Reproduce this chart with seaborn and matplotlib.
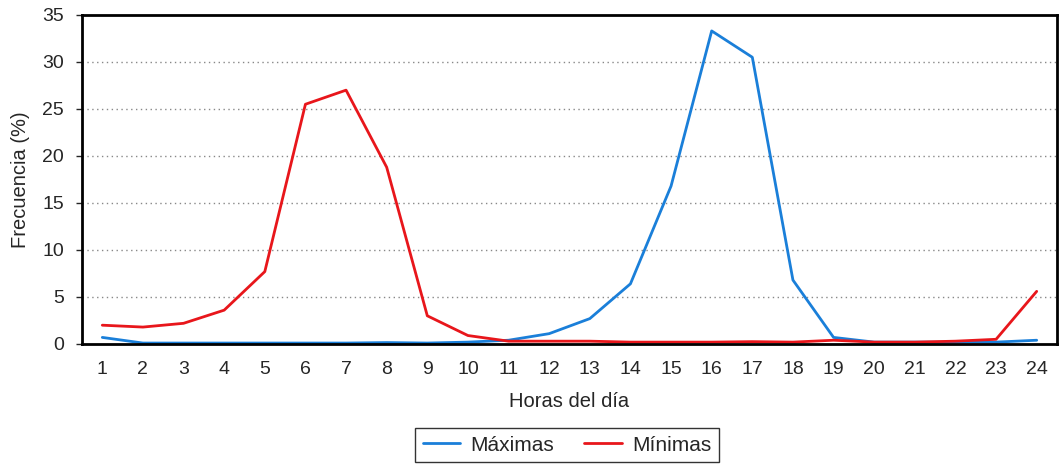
import matplotlib
matplotlib.use("Agg")
import matplotlib.pyplot as plt
import seaborn as sns
import pandas as pd
import numpy as np
from matplotlib.lines import Line2D

horas = list(range(1, 25))
maximas = [0.7, 0.1, 0.1, 0.1, 0.1, 0.1, 0.1, 0.15, 0.1, 0.2, 0.4, 1.1, 2.7, 6.4,
           16.8, 33.3, 30.5, 6.8, 0.7, 0.2, 0.2, 0.2, 0.2, 0.4]
minimas = [2.0, 1.8, 2.2, 3.6, 7.7, 25.5, 27.0, 18.8, 3.0, 0.9, 0.3, 0.3, 0.3, 0.2,
           0.2, 0.2, 0.25, 0.2, 0.4, 0.2, 0.2, 0.3, 0.5, 5.6]
series = ["Máximas", "Mínimas"]
colores = ["#1a7fd9", "#e8161b"]

df = pd.DataFrame({
    "hora": horas * 2,
    "valor": maximas + minimas,
    "serie": [series[0]] * len(horas) + [series[1]] * len(horas),
})

sns.set_style("white")
plt.rcParams["font.family"] = ["Liberation Sans", "DejaVu Sans"]

fig = plt.figure(figsize=(10.62, 4.67), dpi=100)
ax = fig.add_axes([0.0772, 0.2634, 0.9953 - 0.0772, 0.968 - 0.2634])

sns.lineplot(data=df, x="hora", y="valor", hue="serie", palette=colores,
             linewidth=2, ax=ax, legend=False)

ax.set_xlim(0.5, 24.5)
ax.set_ylim(0, 35)
ax.set_yticks(range(0, 36, 5))
ax.set_xticks(horas)
ax.set_xticklabels([str(h) for h in horas])
ax.set_xticks(np.arange(0.5, 25, 1), minor=True)
ax.tick_params(axis="x", which="major", length=0, labelsize=14, pad=12)
ax.tick_params(axis="x", which="minor", length=4, width=1, color="black", direction="in")
ax.tick_params(axis="y", which="major", length=4, width=1, labelsize=14, left=True,
               direction="out", pad=9)

for v in range(5, 35, 5):
    ax.axhline(v, color="#888888", linestyle=(0, (1, 2.5)), linewidth=1, zorder=0)

for s in ax.spines.values():
    s.set_color("black")
    s.set_linewidth(2)

ax.set_xlabel("Horas del día", fontsize=14.5, labelpad=10)
ax.set_ylabel("Frecuencia (%)", fontsize=14.5, labelpad=9)

handles = [Line2D([0], [0], color=c, linewidth=2) for c in colores]
leg = fig.legend(handles, series, loc="center", bbox_to_anchor=(0.534, 0.047), ncol=2,
                 fontsize=15, frameon=True, fancybox=False, edgecolor="black",
                 handlelength=1.8, handletextpad=0.5, columnspacing=1.45,
                 borderpad=0.35, borderaxespad=0)
leg.get_frame().set_linewidth(1)

fig.savefig("out.png", dpi=100)
